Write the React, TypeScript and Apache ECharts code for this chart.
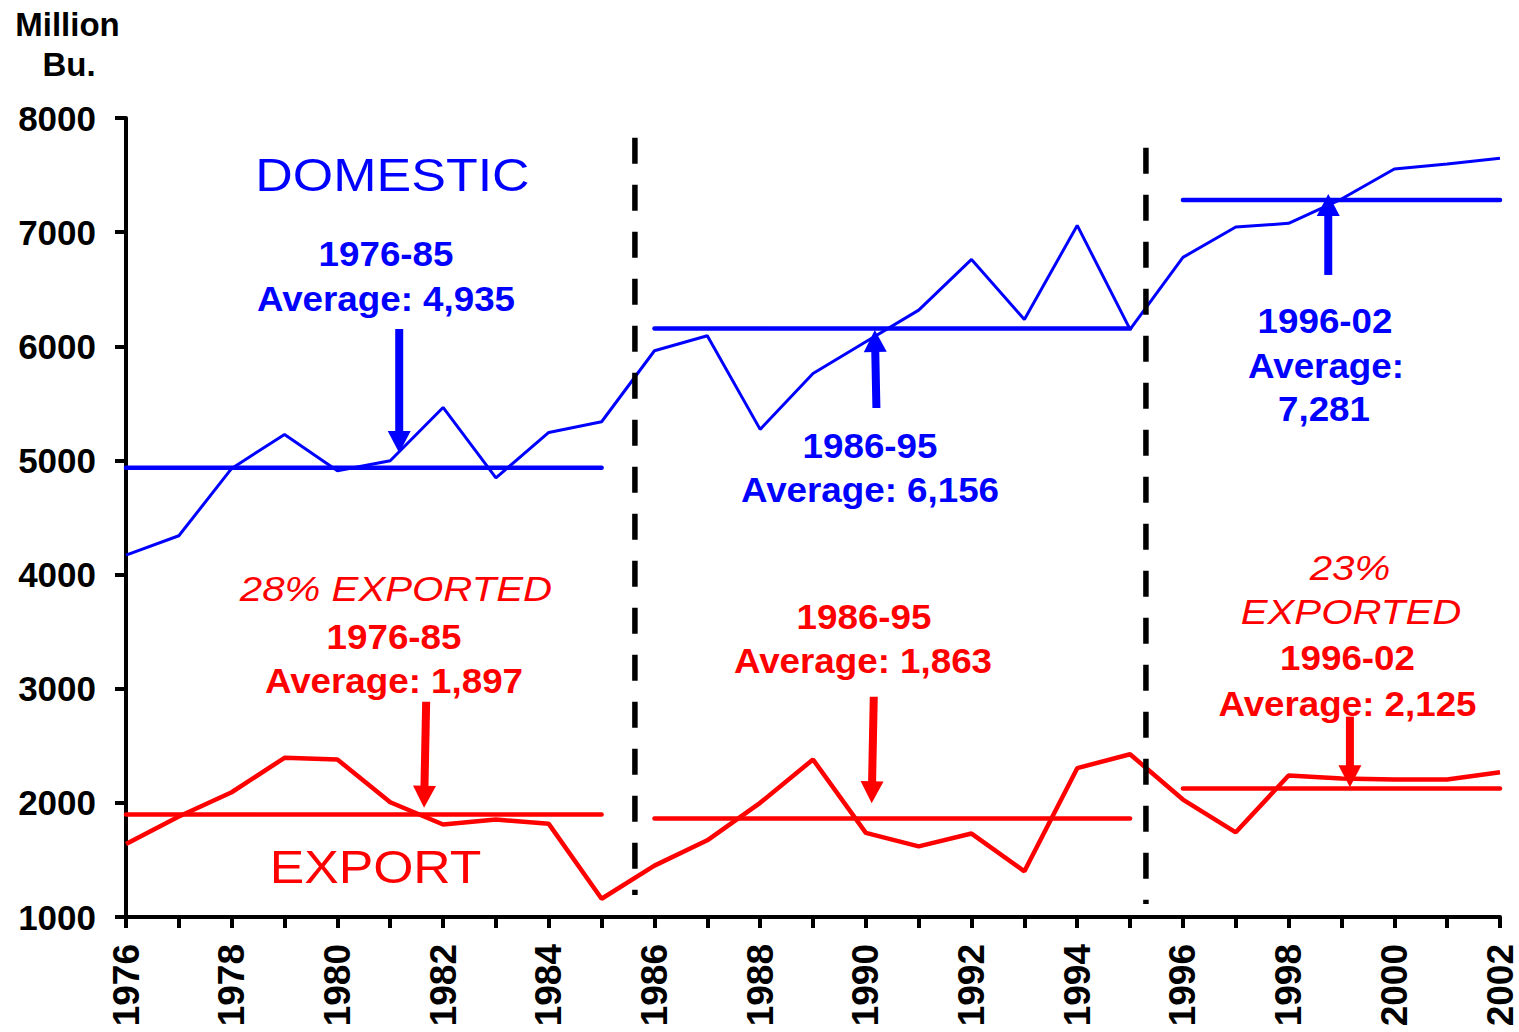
import React, { useEffect, useRef } from "react";
import * as echarts from "echarts";

const years = [1976, 1977, 1978, 1979, 1980, 1981, 1982, 1983, 1984, 1985, 1986, 1987, 1988, 1989, 1990, 1991, 1992, 1993, 1994, 1995, 1996, 1997, 1998, 1999, 2000, 2001, 2002];
const domestic = [4170, 4340, 4930, 5228, 4909, 4997, 5464, 4848, 5245, 5339, 5961, 6092, 5272, 5762, 6040, 6317, 6761, 6235, 7059, 6148, 6779, 7045, 7077, 7290, 7553, 7597, 7647];
const exportVals = [1640, 1880, 2093, 2395, 2380, 2005, 1810, 1854, 1816, 1160, 1450, 1672, 2000, 2380, 1737, 1619, 1731, 1400, 2304, 2426, 2029, 1742, 2239, 2213, 2205, 2205, 2268];

const periods = [[1976, 1985], [1986, 1995], [1996, 2002]];
const domesticAvg = [4935, 6156, 7281];
const exportAvg = [1897, 1863, 2125];

// period dividers: [x, yTop, yBottom]
const dividers = [[1985.63, 7828, 1193], [1995.3, 7740, 1114]];

// arrows: [xFrom, yFrom, xTo, yTo]
const blueArrows = [[1981.17, 6151, 1981.17, 5065], [1990.2, 5459, 1990.17, 6143], [1998.75, 6625, 1998.75, 7334]];
const redArrows = [[1981.68, 2886, 1981.64, 1958], [1990.15, 2930, 1990.11, 1996], [1999.16, 2755, 1999.16, 2136]];

const yTicks = [1000, 2000, 3000, 4000, 5000, 6000, 7000, 8000];

const BLUE = "#0000FF";
const RED = "#FF0000";
const FONT = "'Liberation Sans', Arial, Helvetica, sans-serif";

function txt(text: string, x: number, y: number, size: number, color: string, opts: any = {}) {
  return {
    type: "text",
    x,
    y,
    scaleX: opts.sx ?? 1,
    z: 100,
    style: {
      text,
      fill: color,
      fontSize: size,
      fontWeight: opts.bold ? "bold" : "normal",
      fontStyle: opts.italic ? "italic" : "normal",
      fontFamily: FONT,
      align: "center",
      verticalAlign: "middle",
      textAlign: "center",
      textVerticalAlign: "middle",
    },
  };
}

function arrowRender(color: string) {
  return (params: any, api: any) => {
    const a = api.coord([api.value(0), api.value(1)]);
    const b = api.coord([api.value(2), api.value(3)]);
    const dx = b[0] - a[0];
    const dy = b[1] - a[1];
    const len = Math.sqrt(dx * dx + dy * dy) || 1;
    const ux = dx / len;
    const uy = dy / len;
    const headLen = 22;
    const hw = 11.5;
    const bx = b[0] - ux * headLen;
    const by = b[1] - uy * headLen;
    const nx = -uy;
    const ny = ux;
    return {
      type: "group",
      children: [
        {
          type: "line",
          shape: { x1: a[0], y1: a[1], x2: bx + ux * 2, y2: by + uy * 2 },
          style: { stroke: color, lineWidth: 8 },
        },
        {
          type: "polygon",
          shape: { points: [[b[0], b[1]], [bx + nx * hw, by + ny * hw], [bx - nx * hw, by - ny * hw]] },
          style: { fill: color },
        },
      ],
    };
  };
}

export default function App() {
  const ref = useRef<HTMLDivElement>(null);

  useEffect(() => {
    if (!ref.current) return;
    const chart = echarts.init(ref.current, undefined, { renderer: "svg" });

    const avgSeries: any[] = [];
    periods.forEach((p, i) => {
      avgSeries.push({
        type: "line",
        name: "domAvg" + i,
        data: [[p[0], domesticAvg[i]], [p[1], domesticAvg[i]]],
        symbol: "none",
        lineStyle: { color: BLUE, width: 4.5, cap: "round" },
        z: 3,
      });
      avgSeries.push({
        type: "line",
        name: "expAvg" + i,
        data: [[p[0], exportAvg[i]], [p[1], exportAvg[i]]],
        symbol: "none",
        lineStyle: { color: RED, width: 4.5, cap: "round" },
        z: 3,
      });
    });

    const option: any = {
      animation: false,
      backgroundColor: "#fff",
      grid: { left: 126, right: 19, top: 118, bottom: 115, containLabel: false },
      xAxis: {
        type: "value",
        min: years[0],
        max: years[years.length - 1],
        interval: 1,
        axisLine: { show: true, onZero: false, lineStyle: { color: "#000", width: 4 } },
        axisTick: { show: true, length: 11, lineStyle: { color: "#000", width: 4 } },
        splitLine: { show: false },
        axisLabel: {
          rotate: 90,
          margin: 27,
          color: "#000",
          fontSize: 37,
          fontWeight: "bold",
          fontFamily: FONT,
          formatter: (v: number) => (v % 2 === 0 ? String(v) : ""),
        },
      },
      yAxis: {
        type: "value",
        min: yTicks[0],
        max: yTicks[yTicks.length - 1],
        interval: 1000,
        axisLine: { show: true, onZero: false, lineStyle: { color: "#000", width: 4 } },
        axisTick: { show: true, length: 11, lineStyle: { color: "#000", width: 4 } },
        splitLine: { show: false },
        axisLabel: {
          margin: 30,
          color: "#000",
          fontSize: 35,
          fontWeight: "bold",
          fontFamily: FONT,
          formatter: (v: number) => String(v),
        },
      },
      series: [
        {
          type: "line",
          name: "Domestic",
          data: years.map((y, i) => [y, domestic[i]]),
          symbol: "none",
          lineStyle: { color: BLUE, width: 3 },
          z: 2,
        },
        {
          type: "line",
          name: "Export",
          data: years.map((y, i) => [y, exportVals[i]]),
          symbol: "none",
          lineStyle: { color: RED, width: 4.5 },
          z: 2,
        },
        ...avgSeries,
        {
          type: "custom",
          name: "dividers",
          data: dividers,
          z: 5,
          renderItem: (params: any, api: any) => {
            const t = api.coord([api.value(0), api.value(1)]);
            const b = api.coord([api.value(0), api.value(2)]);
            return {
              type: "line",
              shape: { x1: t[0], y1: t[1], x2: b[0], y2: b[1] },
              style: { stroke: "#000", lineWidth: 5.5, lineDash: [26, 21] },
            };
          },
        },
        {
          type: "custom",
          name: "blueArrows",
          data: blueArrows,
          z: 6,
          renderItem: arrowRender(BLUE),
        },
        {
          type: "custom",
          name: "redArrows",
          data: redArrows,
          z: 6,
          renderItem: arrowRender(RED),
        },
      ],
      graphic: [
        txt("Million", 67.5, 24, 33, "#000", { bold: true }),
        txt("Bu.", 69, 64, 33, "#000", { bold: true }),
        txt("DOMESTIC", 392.5, 175, 46, BLUE, { sx: 1.13 }),
        txt("EXPORT", 375.5, 866, 47, RED, { sx: 1.1 }),
        txt("1976-85", 386, 254, 35, BLUE, { bold: true, sx: 1.05 }),
        txt("Average: 4,935", 386, 299, 35, BLUE, { bold: true, sx: 1.05 }),
        txt("1986-95", 870, 446, 35, BLUE, { bold: true, sx: 1.05 }),
        txt("Average: 6,156", 870, 490, 35, BLUE, { bold: true, sx: 1.05 }),
        txt("1996-02", 1325, 321, 35, BLUE, { bold: true, sx: 1.05 }),
        txt("Average:", 1326, 366, 35, BLUE, { bold: true, sx: 1.05 }),
        txt("7,281", 1324, 409.5, 35, BLUE, { bold: true, sx: 1.05 }),
        txt("28% EXPORTED", 396, 589, 35, RED, { italic: true, sx: 1.15 }),
        txt("1976-85", 394, 637, 35, RED, { bold: true, sx: 1.05 }),
        txt("Average: 1,897", 394, 681, 35, RED, { bold: true, sx: 1.05 }),
        txt("1986-95", 864, 617, 35, RED, { bold: true, sx: 1.05 }),
        txt("Average: 1,863", 863, 661, 35, RED, { bold: true, sx: 1.05 }),
        txt("23%", 1350, 568, 35, RED, { italic: true, sx: 1.15 }),
        txt("EXPORTED", 1351, 611.5, 35, RED, { italic: true, sx: 1.15 }),
        txt("1996-02", 1347.5, 658, 35, RED, { bold: true, sx: 1.05 }),
        txt("Average: 2,125", 1347.5, 704, 35, RED, { bold: true, sx: 1.05 }),
      ],
    };

    chart.setOption(option);
    return () => chart.dispose();
  }, []);

  return (
    <div
      ref={ref}
      style={{ position: "absolute", left: 0, top: 0, width: 1519, height: 1032, background: "#fff" }}
    />
  );
}
